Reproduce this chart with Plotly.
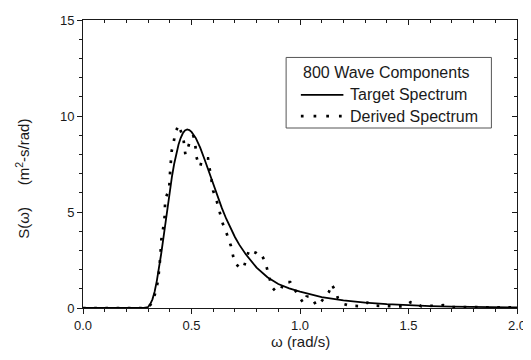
import plotly.graph_objects as go

# Target spectrum
target_w = [0.0, 0.10, 0.20, 0.25, 0.28, 0.30, 0.31, 0.32, 0.33, 0.34, 0.35, 0.36, 0.37, 0.38, 0.39,
            0.40, 0.41, 0.42, 0.43, 0.44, 0.45, 0.46, 0.47, 0.48, 0.49, 0.50, 0.52, 0.54, 0.56, 0.58,
            0.60, 0.62, 0.64, 0.66, 0.68, 0.70, 0.72, 0.75, 0.80, 0.85, 0.90, 0.95, 1.00, 1.05, 1.10,
            1.20, 1.30, 1.40, 1.50, 1.60, 1.70, 1.80, 1.90, 2.00]
target_s = [0.0, 0.0, 0.0, 0.0, 0.01, 0.05, 0.2, 0.45, 0.85, 1.4, 2.05, 2.8, 3.6, 4.45, 5.3,
            6.1, 6.85, 7.5, 8.05, 8.5, 8.85, 9.1, 9.25, 9.3, 9.27, 9.17, 8.85, 8.35, 7.75, 7.1,
            6.45, 5.8, 5.2, 4.65, 4.15, 3.7, 3.3, 2.8, 2.1, 1.6, 1.25, 1.02, 0.85, 0.7, 0.57,
            0.4, 0.28, 0.2, 0.14, 0.1, 0.07, 0.05, 0.04, 0.03]

# Derived spectrum (800 wave components)
derived_w = [0.0, 0.10, 0.20, 0.29, 0.30, 0.318, 0.334, 0.346, 0.356, 0.361, 0.370, 0.376, 0.379,
             0.390, 0.397, 0.402, 0.405, 0.409, 0.417, 0.425, 0.432, 0.440, 0.447, 0.455, 0.462,
             0.468, 0.472, 0.477, 0.485, 0.493, 0.500, 0.508, 0.516, 0.522, 0.530, 0.540, 0.548,
             0.560, 0.576, 0.584, 0.591, 0.600, 0.614, 0.629, 0.644, 0.659, 0.670, 0.682, 0.690,
             0.698, 0.713, 0.728, 0.743, 0.755, 0.766, 0.780, 0.796, 0.810, 0.826, 0.840, 0.849,
             0.860, 0.870, 0.885, 0.900, 0.912, 0.925, 0.940, 0.955, 0.967, 0.980, 0.998, 1.016,
             1.030, 1.050, 1.076, 1.090, 1.113, 1.134, 1.145, 1.164, 1.175, 1.198, 1.230, 1.270,
             1.310, 1.350, 1.400, 1.440, 1.480, 1.510, 1.530, 1.560, 1.600, 1.660, 1.700, 1.750,
             1.800, 1.900, 2.000]
derived_s = [0.0, 0.0, 0.0, 0.0, 0.05, 0.25, 0.81, 1.44, 2.62, 3.56, 4.2, 4.74, 5.67,
             6.0, 6.2, 7.2, 8.05, 8.2, 8.56, 9.15, 9.3, 9.54, 9.32, 9.06, 8.9,
             8.3, 8.0, 8.2, 8.4, 8.7, 8.8, 8.97, 8.72, 7.9, 7.6, 7.37, 7.7,
             7.8, 7.8, 7.2, 6.6, 6.1, 5.67, 5.0, 4.4, 3.98, 3.6, 3.22, 2.8,
             2.37, 2.2, 2.03, 2.2, 2.7, 3.05, 2.95, 2.88, 2.65, 2.7, 2.4, 2.03,
             1.6, 1.1, 0.9, 1.0, 0.95, 1.35, 1.35, 1.35, 1.1, 0.9, 0.56, 0.25,
             0.6, 0.6, 0.12, 0.22, 0.57, 0.85, 1.24, 0.88, 0.5, 0.22, 0.12, 0.1,
             0.28, 0.12, 0.1, 0.08, 0.08, 0.3, 0.28, 0.08, 0.1, 0.15, 0.05, 0.05,
             0.04, 0.03, 0.03]

x_ticks = [0.0, 0.5, 1.0, 1.5, 2.0]
y_ticks = [0, 5, 10, 15]

FONT = "Liberation Sans, Arial, sans-serif"
INK = "#1a1a1a"

fig = go.Figure()
fig.add_trace(go.Scatter(x=target_w, y=target_s, mode="lines", name="Target Spectrum",
                         line=dict(color="black", width=1.8), showlegend=False))
fig.add_trace(go.Scatter(x=derived_w, y=derived_s, mode="lines", name="Derived Spectrum",
                         line=dict(color="black", width=2.7, dash="2.7px,8.5px"), showlegend=False))
# invisible trace for mirrored top/right axes
fig.add_trace(go.Scatter(x=[0, 2], y=[0, 15], xaxis="x2", yaxis="y2", mode="markers",
                         marker=dict(opacity=0), showlegend=False, hoverinfo="skip"))

axis_common = dict(showgrid=False, zeroline=False, showline=True, linecolor=INK, linewidth=1,
                   tickcolor=INK, tickwidth=1)

# page body has an 8px margin, so the figure is 8px smaller and offset
fig.update_layout(
    width=523, height=352,
    margin=dict(l=75, r=8, t=5, b=52),
    paper_bgcolor="white", plot_bgcolor="white",
    font=dict(family=FONT, color=INK, size=13),
    xaxis=dict(range=[0, 2], tickvals=x_ticks, ticktext=[f"{v:.1f}" for v in x_ticks],
               ticks="outside", ticklen=5, ticklabeloverflow="allow",
               minor=dict(ticks="outside", ticklen=3, dtick=0.1, tickcolor=INK),
               tickfont=dict(size=13), **axis_common),
    yaxis=dict(range=[0, 15], tickvals=y_ticks, ticktext=[str(v) for v in y_ticks],
               ticks="outside", ticklen=5, ticklabeloverflow="allow",
               minor=dict(ticks="outside", ticklen=3, dtick=1, tickcolor=INK),
               tickfont=dict(size=13), **axis_common),
    xaxis2=dict(range=[0, 2], overlaying="x", side="top", tickvals=x_ticks, ticks="inside",
                ticklen=5, showticklabels=False,
                minor=dict(ticks="inside", ticklen=3, dtick=0.1, tickcolor=INK), **axis_common),
    yaxis2=dict(range=[0, 15], overlaying="y", side="right", tickvals=y_ticks, ticks="inside",
                ticklen=5, showticklabels=False,
                minor=dict(ticks="inside", ticklen=3, dtick=1, tickcolor=INK), **axis_common),
)

# axis titles
fig.add_annotation(text="ω (rad/s)", xref="paper", yref="paper", x=0.5, y=-0.118,
                   xanchor="center", yanchor="middle", showarrow=False, font=dict(size=15),
                   borderpad=0)
fig.add_annotation(text="S(ω)", xref="paper", yref="paper", x=-0.139, y=0.295,
                   textangle=-90, xanchor="center", yanchor="middle", showarrow=False,
                   font=dict(size=15))
fig.add_annotation(text="(m<sup>2</sup>-s/rad)", xref="paper", yref="paper", x=-0.139, y=0.543,
                   textangle=-90, xanchor="center", yanchor="middle", showarrow=False,
                   font=dict(size=15))

# legend box drawn by hand
fig.add_shape(type="rect", xref="paper", yref="paper", x0=0.468, x1=0.941, y0=0.625, y1=0.870,
              line=dict(color="#555555", width=1), fillcolor="white", layer="above")
fig.add_annotation(text="800 Wave Components", xref="paper", yref="paper", x=0.699, y=0.819,
                   xanchor="center", yanchor="middle", showarrow=False, font=dict(size=16))
fig.add_shape(type="line", xref="paper", yref="paper", x0=0.502, x1=0.600, y0=0.740, y1=0.740,
              line=dict(color="black", width=1.8), layer="above")
fig.add_annotation(text="Target Spectrum", xref="paper", yref="paper", x=0.610, y=0.740,
                   xanchor="left", yanchor="middle", showarrow=False, font=dict(size=16))
fig.add_shape(type="line", xref="paper", yref="paper", x0=0.502, x1=0.600, y0=0.666, y1=0.666,
              line=dict(color="black", width=2.7, dash="2.7px,10px"), layer="above")
fig.add_annotation(text="Derived Spectrum", xref="paper", yref="paper", x=0.610, y=0.666,
                   xanchor="left", yanchor="middle", showarrow=False, font=dict(size=16))

fig.write_html("out.html")
